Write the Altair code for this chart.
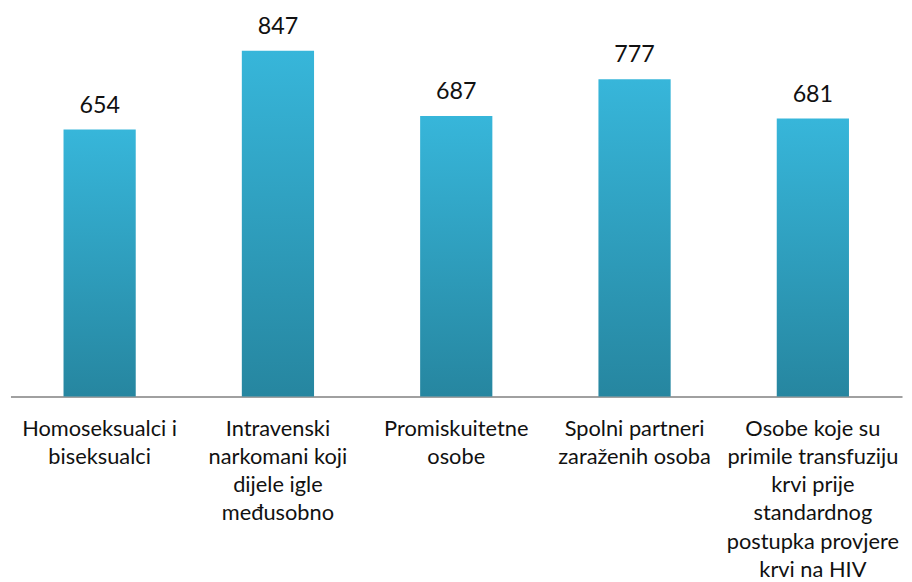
import altair as alt
import pandas as pd

categories = [
    "Homoseksualci i|biseksualci",
    "Intravenski|narkomani koji|dijele igle|međusobno",
    "Promiskuitetne|osobe",
    "Spolni partneri|zaraženih osoba",
    "Osobe koje su|primile transfuziju|krvi prije|standardnog|postupka provjere|krvi na HIV",
]
values = [654, 847, 687, 777, 681]

df = pd.DataFrame({"cat": categories, "val": values})

FONT = "Lato"

x = alt.X(
    "cat:N",
    sort=None,
    title=None,
    scale=alt.Scale(paddingInner=0.595, paddingOuter=0.2975),
    axis=alt.Axis(
        labelExpr="split(datum.label, '|')",
        labelAngle=0,
        labelFont=FONT,
        labelFontSize=22,
        labelLineHeight=28.5,
        labelColor="#111111",
        labelPadding=22,
        labelLimit=0,
        labelOverlap=False,
        ticks=False,
        domainColor="#a0a0a0",
        domainWidth=2,
        grid=False,
    ),
)
y = alt.Y("val:Q", scale=alt.Scale(domain=[0, 900]), axis=None)

grad = alt.Gradient(
    gradient="linear",
    x1=0, x2=0, y1=0, y2=1,
    stops=[
        alt.GradientStop(color="#37b6da", offset=0),
        alt.GradientStop(color="#2686a0", offset=1),
    ],
)

base = alt.Chart(df)
bars = base.mark_bar(color=grad).encode(x=x, y=y)
labels = base.mark_text(
    font=FONT, fontSize=23.5, color="#111111", baseline="alphabetic", dy=-17
).encode(x=alt.X("cat:N", sort=None), y="val:Q", text="val:Q")

chart = (
    alt.layer(bars, labels)
    .properties(
        width=900,
        height=371,
        autosize=alt.AutoSizeParams(type="none"),
        padding={"left": 2.5, "top": 18.5, "right": 2, "bottom": 190},
    )
    .configure_view(stroke=None)
)

chart.save("out.html", embed_options={"renderer": "svg", "actions": False})
